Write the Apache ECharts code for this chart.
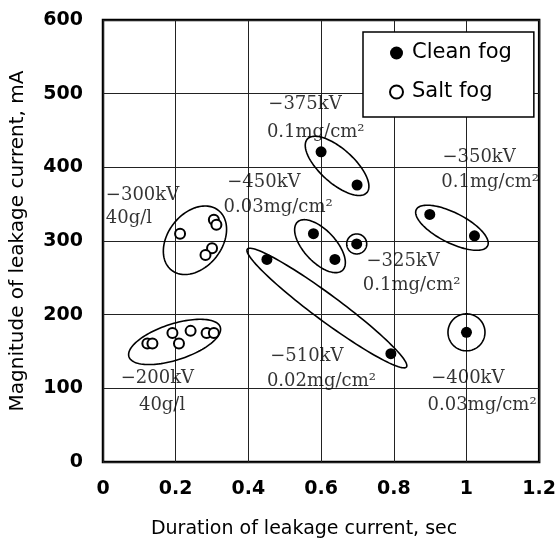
<!DOCTYPE html>
<html>
<head>
<meta charset="utf-8">
<script src="https://cdn.jsdelivr.net/npm/echarts@6/dist/echarts.min.js"></script>
<style>
  html, body { margin: 0; padding: 0; background: #fff; }
  #chart { width: 559px; height: 548px; }
</style>
</head>
<body>
<div id="chart"></div>
<script>
// Leakage current measurements: [duration (s), magnitude (mA)]
const cleanFog = [
  [0.600, 421], [0.699, 376],               // -375kV 0.1mg/cm2
  [0.899, 336], [1.022, 307],               // -350kV 0.1mg/cm2
  [0.579, 310], [0.638, 275],               // -450kV 0.03mg/cm2
  [0.698, 296],                             // -325kV 0.1mg/cm2
  [0.451, 275], [0.792, 147],               // -510kV 0.02mg/cm2
  [1.000, 176]                              // -400kV 0.03mg/cm2
];
const saltFog = [
  [0.212, 310], [0.305, 329], [0.312, 322], [0.300, 290], [0.282, 281],   // -300kV 40g/l
  [0.122, 161], [0.136, 161], [0.191, 175], [0.209, 161],
  [0.241, 178], [0.285, 175], [0.305, 175]                               // -200kV 40g/l
];

const xTickLabels = ['0', '0.2', '0.4', '0.6', '0.8', '1', '1.2'];
const yTickLabels = ['0', '100', '200', '300', '400', '500', '600'];

// Test-condition notes: [x, y, text], anchored at the left end of each line
const notes = [
  [0.455, 486, '\u2212375kV'], [0.451, 447, '0.1mg/cm\u00b2'],
  [0.934, 413, '\u2212350kV'], [0.931, 379, '0.1mg/cm\u00b2'],
  [0.008, 362, '\u2212300kV'], [0.008, 331, '40g/l'],
  [0.342, 379, '\u2212450kV'], [0.332, 346, '0.03mg/cm\u00b2'],
  [0.725, 272, '\u2212325kV'], [0.715, 240, '0.1mg/cm\u00b2'],
  [0.460, 143, '\u2212510kV'], [0.451, 109, '0.02mg/cm\u00b2'],
  [0.049, 114, '\u2212200kV'], [0.099, 77, '40g/l'],
  [0.903, 114, '\u2212400kV'], [0.893, 77, '0.03mg/cm\u00b2']
];

// Group outlines: [centre x, centre y, half-length px, half-width px, tilt deg]
const outlines = [
  [0.644, 402, 40, 17, 42],
  [0.960, 318, 40, 15, 27],
  [0.597, 293, 33, 16, 47],
  [0.698, 296, 10, 10, 0],
  [0.616, 209, 99, 13, 36.5],
  [1.000, 176, 18.5, 18.5, 0],
  [0.253, 301, 38, 27, -52],
  [0.197, 163, 48, 18, -18]
];

const sans = 'DejaVu Sans';
const serif = 'DejaVu Serif';

const chart = echarts.init(document.getElementById('chart'), null, { renderer: 'canvas' });

chart.setOption({
  animation: false,
  backgroundColor: '#fff',
  grid: {
    left: 102, right: 19, top: 20, bottom: 86,
    show: true, borderColor: '#000', borderWidth: 2.5, backgroundColor: 'transparent'
  },
  legend: {
    orient: 'vertical',
    left: 363, top: 32,
    padding: [9, 22, 13, 26],
    itemGap: 15,
    itemWidth: 13, itemHeight: 13,
    backgroundColor: '#fff',
    borderColor: '#000', borderWidth: 1.5,
    textStyle: { fontFamily: sans, fontSize: 21, color: '#000', lineHeight: 24, padding: [0, 0, 0, 4] },
    data: [
      { name: 'Clean fog', icon: 'circle', itemStyle: { color: '#000', borderWidth: 0, opacity: 1 } },
      { name: 'Salt fog', icon: 'circle', itemStyle: { color: '#fff', borderColor: '#000', borderWidth: 2, opacity: 1 } }
    ]
  },
  xAxis: {
    type: 'value', min: 0, max: 1.2, interval: 0.2,
    name: 'Duration of leakage current, sec',
    nameLocation: 'middle', nameGap: 58,
    nameTextStyle: { fontFamily: sans, fontSize: 19, color: '#000', padding: [0, 34, 0, 0] },
    axisLine: { show: false },
    axisTick: { show: false },
    axisLabel: {
      margin: 18, fontFamily: sans, fontWeight: 'bold', fontSize: 19, color: '#000',
      formatter: (v) => xTickLabels[Math.round(v / 0.2)]
    },
    splitLine: { show: true, lineStyle: { color: '#222', width: 1 } }
  },
  yAxis: {
    type: 'value', min: 0, max: 600, interval: 100,
    name: 'Magnitude of leakage current, mA',
    nameLocation: 'middle', nameGap: 75,
    nameTextStyle: { fontFamily: sans, fontSize: 20, color: '#000' },
    axisLine: { show: false },
    axisTick: { show: false },
    axisLabel: {
      margin: 20, fontFamily: sans, fontWeight: 'bold', fontSize: 19, color: '#000',
      formatter: (v) => yTickLabels[Math.round(v / 100)]
    },
    splitLine: { show: true, lineStyle: { color: '#222', width: 1 } }
  },
  series: [
    {
      name: 'outlines',
      type: 'custom',
      silent: true,
      clip: false,
      z: 3,
      encode: { x: 0, y: 1 },
      data: outlines,
      renderItem: (params, api) => {
        const c = api.coord([api.value(0), api.value(1)]);
        const rx = api.value(2), ry = api.value(3);
        const a = api.value(4) * Math.PI / 180;
        const pts = [];
        for (let i = 0; i < 120; i++) {
          const t = i / 120 * Math.PI * 2;
          const ex = rx * Math.cos(t), ey = ry * Math.sin(t);
          pts.push([c[0] + ex * Math.cos(a) - ey * Math.sin(a),
                    c[1] + ex * Math.sin(a) + ey * Math.cos(a)]);
        }
        return { type: 'polygon', shape: { points: pts }, style: { fill: 'none', stroke: '#000', lineWidth: 1.6 } };
      }
    },
    {
      name: 'Clean fog',
      type: 'scatter',
      z: 4,
      symbol: 'circle',
      symbolSize: 11,
      itemStyle: { color: '#000', opacity: 1 },
      data: cleanFog
    },
    {
      name: 'Salt fog',
      type: 'scatter',
      z: 4,
      symbol: 'circle',
      symbolSize: 10,
      itemStyle: { color: '#fff', borderColor: '#000', borderWidth: 2, opacity: 1 },
      data: saltFog
    },
    {
      name: 'notes',
      type: 'scatter',
      silent: true,
      z: 5,
      symbolSize: 0.1,
      itemStyle: { color: 'transparent' },
      encode: { x: 0, y: 1 },
      data: notes,
      label: {
        show: true,
        position: [0, 0],
        align: 'left',
        verticalAlign: 'middle',
        fontFamily: serif,
        fontSize: 18,
        color: '#000',
        formatter: (p) => p.value[2]
      }
    }
  ]
});
</script>
</body>
</html>
